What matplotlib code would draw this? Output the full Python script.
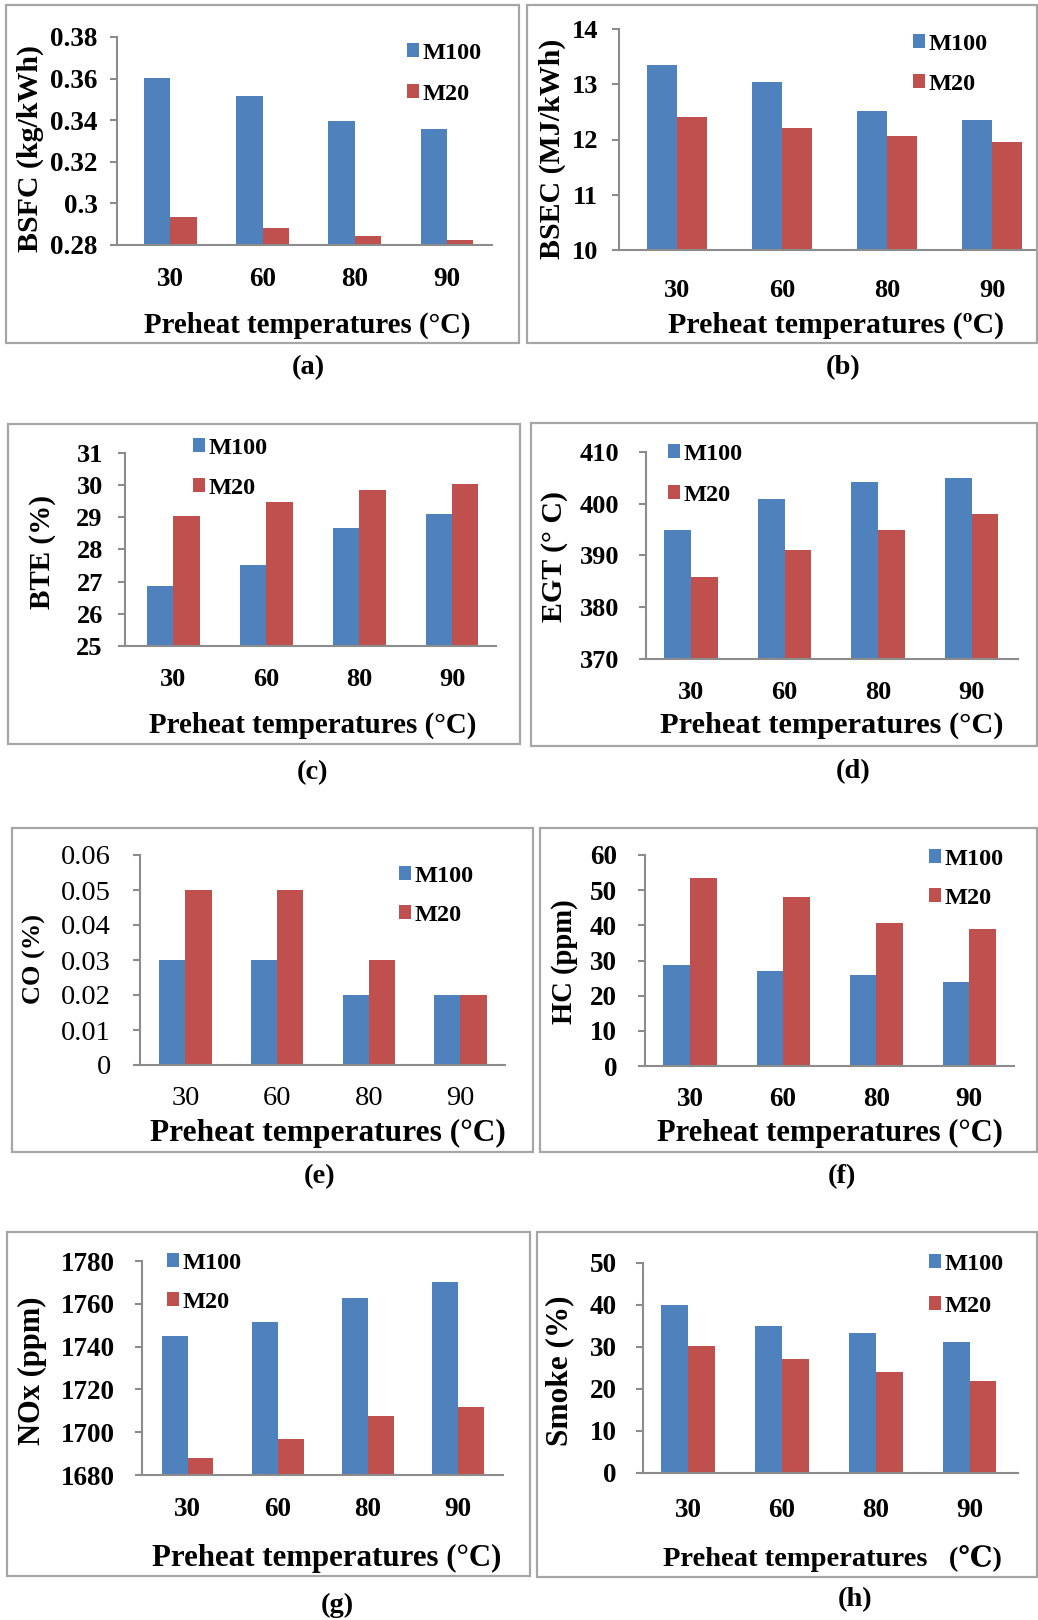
import matplotlib
matplotlib.use("Agg")
import matplotlib.pyplot as plt
from matplotlib.patches import Rectangle

# ---------------- data ----------------
temperatures = ["30", "60", "80", "90"]
series_names = ["M100", "M20"]

bsfc_m100 = [0.3605, 0.3517, 0.3398, 0.3358]
bsfc_m20 = [0.2933, 0.2883, 0.2845, 0.2826]

bsec_m100 = [13.34, 13.04, 12.51, 12.36]
bsec_m20 = [12.40, 12.21, 12.06, 11.95]

bte_m100 = [26.88, 27.53, 28.66, 29.10]
bte_m20 = [29.03, 29.48, 29.85, 30.04]

egt_m100 = [395.0, 401.0, 404.2, 405.0]
egt_m20 = [385.8, 391.0, 395.0, 398.1]

co_m100 = [0.03, 0.03, 0.02, 0.02]
co_m20 = [0.05, 0.05, 0.03, 0.02]

hc_m100 = [28.7, 27.1, 26.0, 23.8]
hc_m20 = [53.6, 48.0, 40.7, 39.0]

nox_m100 = [1744.9, 1751.7, 1762.6, 1770.2]
nox_m20 = [1688.1, 1696.9, 1707.8, 1711.7]

smoke_m100 = [40.0, 34.9, 33.3, 31.3]
smoke_m20 = [30.2, 27.1, 24.1, 22.0]

# ---------------- style ----------------
W, H = 1038, 1620
BLUE = "#4F81BD"
RED = "#C0504D"
AXIS_GRAY = "#8C8C8C"
FRAME_GRAY = "#A6A6A6"
SERIF = ["Liberation Serif", "DejaVu Serif"]

plt.rcParams["font.family"] = SERIF

fig = plt.figure(figsize=(W / 100, H / 100), dpi=100)
fig.patch.set_facecolor("white")


def fx(px):
    return px / W


def fy(py):
    return 1 - py / H


panels = [
    dict(m100=bsfc_m100, m20=bsfc_m20, ylim=(0.28, 0.38), step=0.02, fmt=lambda v: f"{v:g}",
         ax=(117, 492, 37, 245), xlim=(-0.578, 3.488),
         ylabel="BSFC (kg/kWh)", ylab_xy=(30, 149), ylab_fs=21.5,
         xlabel="Preheat temperatures (°C)", xlab_xy=(307, 325), xlab_fs=20.8,
         tick_bold=True, tick_fs=19.5, ypad=9, xpad=16,
         frame=(6, 5, 519, 343), tag="(a)", tag_xy=(308, 368),
         leg=(407, 52, 92)),
    dict(m100=bsec_m100, m20=bsec_m20, ylim=(10, 14), step=1, fmt=lambda v: f"{v:g}",
         ax=(619, 1036, 29, 250), xlim=(-0.556, 3.42),
         ylabel="BSEC (MJ/kWh)", ylab_xy=(552, 149), ylab_fs=21.5,
         xlabel="Preheat temperatures (ºC)", xlab_xy=(836, 325), xlab_fs=21.5,
         tick_bold=True, tick_fs=19, ypad=10, xpad=21,
         frame=(527, 5, 1037, 343), tag="(b)", tag_xy=(843, 368),
         leg=(913, 43, 82)),
    dict(m100=bte_m100, m20=bte_m20, ylim=(25, 31), step=1, fmt=lambda v: f"{v:g}",
         ax=(125, 496, 453, 646), xlim=(-0.521, 3.474),
         ylabel="BTE (%)", ylab_xy=(43, 552), ylab_fs=21,
         xlabel="Preheat temperatures (°C)", xlab_xy=(313, 725), xlab_fs=20.9,
         tick_bold=True, tick_fs=19, ypad=11, xpad=16,
         frame=(8, 424, 520, 744), tag="(c)", tag_xy=(312, 773),
         leg=(193, 447, 486)),
    dict(m100=egt_m100, m20=egt_m20, ylim=(370, 410), step=10, fmt=lambda v: f"{v:g}",
         ax=(646, 1018, 452, 659), xlim=(-0.482, 3.496),
         ylabel="EGT (° C)", ylab_xy=(555, 557), ylab_fs=21.5,
         xlabel="Preheat temperatures (°C)", xlab_xy=(832, 725), xlab_fs=21.9,
         tick_bold=True, tick_fs=19, ypad=14, xpad=16,
         frame=(531, 423, 1037, 746), tag="(d)", tag_xy=(853, 772),
         leg=(668, 453, 493)),
    dict(m100=co_m100, m20=co_m20, ylim=(0, 0.06), step=0.01, fmt=lambda v: f"{v:.2f}" if v else "0",
         ax=(140, 504.5, 855, 1065), xlim=(-0.495, 3.48),
         ylabel="CO (%)", ylab_xy=(34, 959), ylab_fs=19,
         xlabel="Preheat temperatures (°C)", xlab_xy=(328, 1133), xlab_fs=22.6,
         tick_bold=False, tick_fs=20.5, ypad=16, xpad=15,
         frame=(12, 828, 533, 1152), tag="(e)", tag_xy=(320, 1177),
         leg=(399, 875, 913)),
    dict(m100=hc_m100, m20=hc_m20, ylim=(0, 60), step=10, fmt=lambda v: f"{v:g}",
         ax=(645, 1014, 855, 1066), xlim=(-0.483, 3.48),
         ylabel="HC (ppm)", ylab_xy=(565, 962), ylab_fs=20.6,
         xlabel="Preheat temperatures (°C)", xlab_xy=(830, 1133), xlab_fs=22,
         tick_bold=True, tick_fs=19.5, ypad=15, xpad=15,
         frame=(540, 828, 1037, 1152), tag="(f)", tag_xy=(842, 1177),
         leg=(929, 858, 896)),
    dict(m100=nox_m100, m20=nox_m20, ylim=(1680, 1780), step=20, fmt=lambda v: f"{v:g}",
         ax=(141.7, 503, 1261, 1475), xlim=(-0.51, 3.497),
         ylabel="NOx (ppm)", ylab_xy=(32, 1371), ylab_fs=22,
         xlabel="Preheat temperatures (°C)", xlab_xy=(327, 1558), xlab_fs=22.2,
         tick_bold=True, tick_fs=19.5, ypad=14, xpad=16,
         frame=(7, 1232, 530, 1576), tag="(g)", tag_xy=(337, 1605),
         leg=(167, 1262, 1300)),
    dict(m100=smoke_m100, m20=smoke_m20, ylim=(0, 50), step=10, fmt=lambda v: f"{v:g}",
         ax=(643, 1018, 1263, 1473), xlim=(-0.479, 3.515),
         ylabel="Smoke (%)", ylab_xy=(560, 1371), ylab_fs=22.5,
         xlabel="Preheat temperatures   (℃)", xlab_xy=(832, 1558), xlab_fs=20.5,
         tick_bold=True, tick_fs=19.5, ypad=14, xpad=18,
         frame=(537, 1232, 1037, 1577), tag="(h)", tag_xy=(855, 1600),
         leg=(929, 1263, 1304)),
]

BAR_W = 0.285
LEG_FS = 17.5
LEG_PX = LEG_FS * 100 / 72
ROW_TXT_H = 0.83 * LEG_PX

for p in panels:
    # panel frame
    x0, y0, x1, y1 = p["frame"]
    fig.patches.append(Rectangle((fx(x0), fy(y1)), fx(x1 - x0), (y1 - y0) / H,
                                 transform=fig.transFigure, fill=False,
                                 edgecolor=FRAME_GRAY, linewidth=1.6, zorder=0))

    L, R, T, B = p["ax"]
    ax = fig.add_axes([fx(L), fy(B), fx(R - L), (B - T) / H])
    ax.patch.set_alpha(0)

    idx = list(range(len(temperatures)))
    b1 = ax.bar([i - BAR_W / 2 for i in idx], p["m100"], width=BAR_W, color=BLUE,
                label=series_names[0], zorder=2)
    b2 = ax.bar([i + BAR_W / 2 for i in idx], p["m20"], width=BAR_W, color=RED,
                label=series_names[1], zorder=2)

    lo, hi = p["ylim"]
    ax.set_ylim(lo, hi)
    ax.set_xlim(*p["xlim"])
    n = int(round((hi - lo) / p["step"]))
    yt = [lo + k * p["step"] for k in range(n + 1)]
    ax.set_yticks(yt)
    ax.set_yticklabels([p["fmt"](round(v, 6)) for v in yt])
    ax.set_xticks(idx)
    ax.set_xticklabels(temperatures)

    weight = "bold" if p["tick_bold"] else "normal"
    for lab in ax.get_yticklabels() + ax.get_xticklabels():
        lab.set_fontsize(p["tick_fs"])
        lab.set_fontweight(weight)

    for s in ("top", "right"):
        ax.spines[s].set_visible(False)
    for s in ("left", "bottom"):
        ax.spines[s].set_color(AXIS_GRAY)
        ax.spines[s].set_linewidth(1.5)
    ax.tick_params(axis="y", direction="out", length=5, width=1.5, color=AXIS_GRAY,
                   pad=p["ypad"])
    ax.tick_params(axis="x", length=0, pad=p["xpad"])

    # axis titles and panel tag
    lx, ly = p["ylab_xy"]
    fig.text(fx(lx), fy(ly), p["ylabel"], rotation=90, ha="center", va="center",
             fontsize=p["ylab_fs"], fontweight="bold")
    tx, ty = p["xlab_xy"]
    fig.text(fx(tx), fy(ty), p["xlabel"], ha="center", va="center",
             fontsize=p["xlab_fs"], fontweight="bold", family=SERIF)
    gx, gy = p["tag_xy"]
    fig.text(fx(gx), fy(gy), p["tag"], ha="center", va="center",
             fontsize=20.5, fontweight="bold")

    # legend
    lgx, lg1, lg2 = p["leg"]
    ax.legend(handles=[b1, b2], loc="upper left",
              bbox_to_anchor=(fx(lgx), fy(lg1 - 9)),
              bbox_transform=fig.transFigure, frameon=False,
              borderpad=0, borderaxespad=0, handlelength=0.5,
              handleheight=0.5, handletextpad=0.15,
              labelspacing=(lg2 - lg1 - ROW_TXT_H) / LEG_PX,
              prop=dict(family=SERIF, weight="bold", size=LEG_FS))

fig.savefig("out.png", dpi=100, facecolor="white")
